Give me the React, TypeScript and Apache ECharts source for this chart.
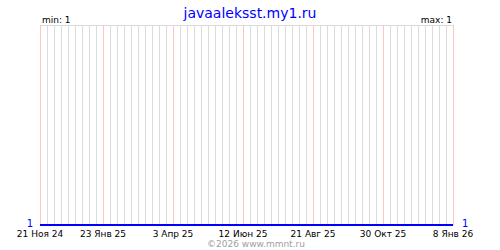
import React, { useEffect, useRef } from "react";
import * as echarts from "echarts";

const titleText = "javaaleksst.my1.ru";
const copyrightText = "©2026 www.mmnt.ru";
const startDate = "2024-11-21";
const endDate = "2026-01-08";
const tickDates = ["2024-11-21", "2025-01-23", "2025-04-03", "2025-06-12", "2025-08-21", "2025-10-30", "2026-01-08"];
const tickLabels = ["21 Ноя 24", "23 Янв 25", "3 Апр 25", "12 Июн 25", "21 Авг 25", "30 Окт 25", "8 Янв 26"];
const seriesDates = ["2024-11-21", "2026-01-08"];
const seriesValues = [1, 1];
const minValue = 1;
const maxValue = 1;

const FONT = "DejaVu Sans";

function dayIndex(d: string): number {
  const [y, m, dd] = d.split("-").map(Number);
  const [sy, sm, sd] = startDate.split("-").map(Number);
  return Math.round((Date.UTC(y, m - 1, dd) - Date.UTC(sy, sm - 1, sd)) / 86400000);
}

export default function App() {
  const ref = useRef<HTMLDivElement>(null);
  useEffect(() => {
    if (!ref.current) return;
    const chart = echarts.init(ref.current, null, { renderer: "svg" });
    const totalDays = dayIndex(endDate);
    const tickIdx = tickDates.map(dayIndex);
    chart.setOption({
      animation: false,
      title: {
        text: titleText,
        left: "center",
        top: 1,
        textStyle: { color: "#0000ff", fontSize: 14, fontWeight: "normal", fontFamily: FONT },
      },
      grid: { left: 40, right: 47, top: 25, bottom: 25, containLabel: false },
      xAxis: {
        type: "value",
        min: 0,
        max: totalDays,
        interval: 7,
        axisLine: { show: false },
        axisTick: { show: false },
        splitLine: { show: true, lineStyle: { color: "#dcdcdc", width: 1 } },
        axisLabel: {
          show: true,
          margin: 4,
          color: "#000",
          fontSize: 9,
          fontFamily: FONT,
          showMinLabel: true,
          showMaxLabel: true,
          formatter: (v: number) => {
            const i = tickIdx.indexOf(Math.round(v));
            return i >= 0 ? tickLabels[i] : "";
          },
        },
      },
      yAxis: [
        {
          type: "value",
          min: 1,
          max: 2,
          interval: 1,
          axisLine: { show: false },
          axisTick: { show: false },
          splitLine: { show: true, lineStyle: { color: "#dcdcdc", width: 1 } },
          axisLabel: {
            margin: 7,
            color: "#0000ff",
            fontSize: 10,
            fontFamily: FONT,
            verticalAlign: "bottom",
            padding: [0, 0, -3, 0],
            formatter: (v: number) => (v === 1 ? "1" : ""),
          },
        },
        {
          type: "value",
          position: "right",
          min: 1,
          max: 2,
          interval: 1,
          axisLine: { show: false },
          axisTick: { show: false },
          splitLine: { show: false },
          axisLabel: {
            margin: 9,
            color: "#0000ff",
            fontSize: 10,
            fontFamily: FONT,
            verticalAlign: "bottom",
            padding: [0, 0, -3, 0],
            formatter: (v: number) => (v === 1 ? "1" : ""),
          },
        },
      ],
      series: [
        {
          type: "line",
          data: [],
          silent: true,
          markLine: {
            silent: true,
            symbol: "none",
            label: { show: false },
            lineStyle: { color: "#ffc4c4", width: 1, type: "solid" },
            data: tickIdx.map((x) => ({ xAxis: x })),
          },
        },
        {
          type: "line",
          data: seriesDates.map((d, i) => [dayIndex(d), seriesValues[i]]),
          symbol: "none",
          lineStyle: { color: "#0000ff", width: 2 },
          z: 5,
        },
      ],
      graphic: [
        {
          type: "text",
          left: 42,
          top: 15,
          style: { text: "min: " + minValue, fill: "#000", fontSize: 9, fontFamily: FONT },
        },
        {
          type: "text",
          right: 48,
          top: 15,
          style: { text: "max: " + maxValue, fill: "#000", fontSize: 9, fontFamily: FONT },
        },
        {
          type: "text",
          left: 207,
          top: 239,
          style: { text: copyrightText, fill: "#a0a0a0", fontSize: 9, fontFamily: FONT },
        },
      ],
    });
    return () => chart.dispose();
  }, []);
  return (
    <div
      ref={ref}
      style={{ position: "absolute", left: 0, top: 0, width: 500, height: 250 }}
    />
  );
}
